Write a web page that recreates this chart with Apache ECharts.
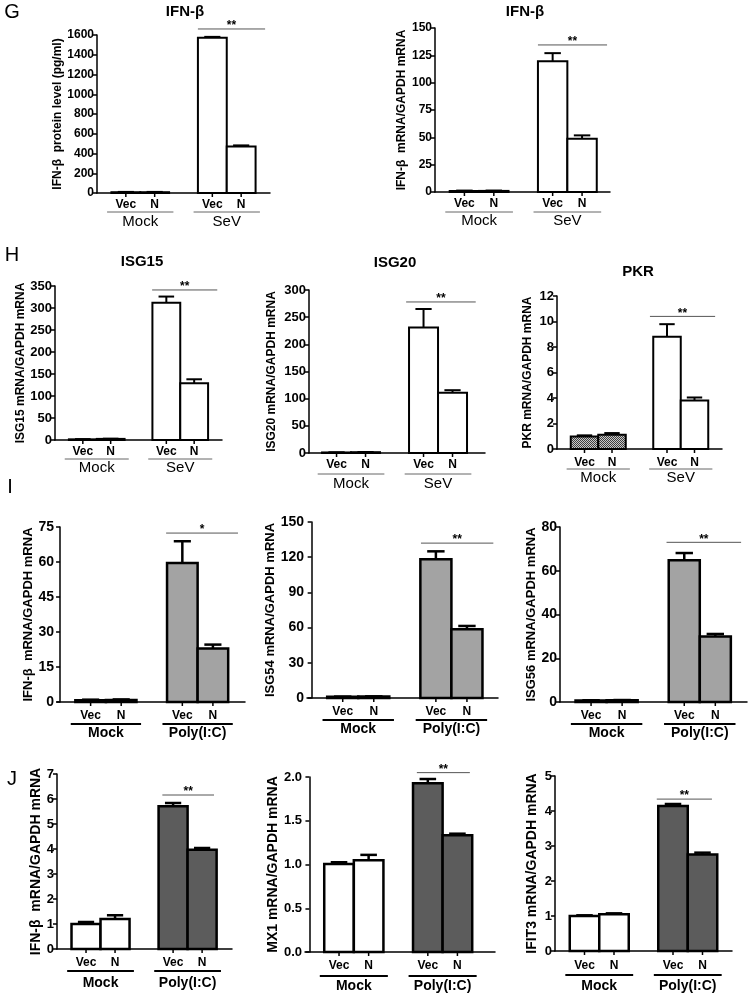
<!DOCTYPE html>
<html><head><meta charset="utf-8">
<script src="https://cdn.jsdelivr.net/npm/echarts@6/dist/echarts.min.js"></script>
<style>html,body{margin:0;padding:0;background:#fff}#c{width:751px;height:999px}</style>
</head><body><div id="c"></div>
<script>
// ---------- categories ----------
const conditions = ['Vec', 'N', 'Vec', 'N'];
const groupsSeV = ['Mock', 'SeV'];
const groupsPoly = ['Mock', 'Poly(I:C)'];

// ---------- values: mean and upper error (SEM) for Mock-Vec, Mock-N, Stim-Vec, Stim-N ----------
const gIfnbProteinMean = [8, 8, 1573, 470];
const gIfnbProteinErr  = [3, 3, 8, 12];
const gIfnbMrnaMean = [1, 1, 119.5, 48.7];
const gIfnbMrnaErr  = [0.3, 0.3, 7.5, 3.1];
const hIsg15Mean = [1.5, 2.5, 312, 129];
const hIsg15Err  = [0.5, 0.5, 14, 9];
const hIsg20Mean = [1, 1.5, 231, 111];
const hIsg20Err  = [0.3, 0.3, 34, 4.6];
const hPkrMean = [0.99, 1.12, 8.8, 3.8];
const hPkrErr  = [0.08, 0.13, 0.99, 0.24];
const iIfnbMean = [0.8, 0.9, 59.6, 22.9];
const iIfnbErr  = [0.2, 0.2, 9.3, 1.7];
const iIsg54Mean = [1, 1.2, 118.3, 58.6];
const iIsg54Err  = [0.2, 0.2, 6.7, 2.8];
const iIsg56Mean = [0.7, 0.8, 64.8, 29.9];
const iIsg56Err  = [0.1, 0.1, 3.3, 1.2];
const jIfnbMean = [1.0, 1.2, 5.71, 3.97];
const jIfnbErr  = [0.08, 0.15, 0.13, 0.07];
const jMx1Mean = [1.006, 1.048, 1.93, 1.333];
const jMx1Err  = [0.02, 0.062, 0.047, 0.019];
const jIfit3Mean = [1.0, 1.048, 4.14, 2.76];
const jIfit3Err  = [0.02, 0.028, 0.06, 0.05];

// ---------- y-axis tick settings ----------
const yMaxList = [1600, 150, 350, 300, 12, 75, 150, 80, 7, 2, 5];
const yIntList = [200, 25, 50, 50, 2, 15, 30, 20, 1, 0.5, 1];
// significance bracket heights (data units) and labels
const sigHeights = [1661, 134.5, 341, 278, 10.4, 72.4, 132, 73, 6.16, 2.05, 4.34];
const sigLabels = ['**', '**', '**', '**', '**', '*', '**', '**', '**', '**', '**'];

// ---------- titles / axis names ----------
const panelTitles = [
  {text: 'IFN-β', x: 185, y: 12}, {text: 'IFN-β', x: 525, y: 12},
  {text: 'ISG15', x: 142, y: 262}, {text: 'ISG20', x: 395, y: 263}, {text: 'PKR', x: 638, y: 272}
];
const panelLetters = [
  {text: 'G', x: 12, y: 12}, {text: 'H', x: 12, y: 255}, {text: 'I', x: 10, y: 487}, {text: 'J', x: 12, y: 779}
];
const yNames = [
  'IFN-β  protein level (pg/ml)', 'IFN-β  mRNA/GAPDH mRNA', 'ISG15 mRNA/GAPDH mRNA',
  'ISG20 mRNA/GAPDH mRNA', 'PKR mRNA/GAPDH mRNA', 'IFN-β  mRNA/GAPDH mRNA',
  'ISG54 mRNA/GAPDH mRNA', 'ISG56 mRNA/GAPDH mRNA', 'IFN-β  mRNA/GAPDH mRNA',
  'MX1 mRNA/GAPDH mRNA', 'IFIT3 mRNA/GAPDH mRNA'
];

// ---------- layout ----------
const FONT = "'Liberation Sans', Arial, sans-serif";
const barPos = [1, 2, 4, 5];

// pattern for PKR mock bars
const pc = document.createElement('canvas');
pc.width = 4; pc.height = 4;
const pctx = pc.getContext('2d');
pctx.fillStyle = '#c8c8c8'; pctx.fillRect(0, 0, 4, 4);
pctx.fillStyle = '#3f3f3f';
for (let a = 0; a < 4; a++) for (let b = 0; b < 4; b++) if ((a + b) % 2 === 0) pctx.fillRect(a, b, 1, 1);
const hatch = {image: pc, repeat: 'repeat'};

const W = '#ffffff', LG = '#a3a3a3', DG = '#5c5c5c';
const styleA = {grpFont: 'normal 15px ' + FONT, grpLine: '#666', grpLW: 1, barLW: 2, lblFont: 'bold 12px ' + FONT};
const styleB = {grpFont: 'bold 14px ' + FONT, grpLine: '#000', grpLW: 2, barLW: 2.5, lblFont: 'bold 12px ' + FONT};

const panels = [
  {grid: [97, 35, 173, 158], xr: [0, 6], mean: gIfnbProteinMean, err: gIfnbProteinErr, fill: [W, W, W, W], groups: groupsSeV, gap: 33, st: styleA, off: [12, 19, 29], sigX: [3.5, 5.83], tick: 12, name: 12},
  {grid: [435, 28, 175, 164], xr: [0, 5.95], mean: gIfnbMrnaMean, err: gIfnbMrnaErr, fill: [W, W, W, W], groups: groupsSeV, gap: 26, st: styleA, off: [12, 20, 29], sigX: [3.5, 5.85], tick: 12, name: 12},
  {grid: [55, 286, 167, 154], xr: [0, 6], mean: hIsg15Mean, err: hIsg15Err, fill: [W, W, W, W], groups: groupsSeV, gap: 21, st: styleA, off: [12, 19, 28], sigX: [3.49, 5.83], tick: 13, name: 12},
  {grid: [309, 290, 176, 163], xr: [0.05, 6.12], mean: hIsg20Mean, err: hIsg20Err, fill: [W, W, W, W], groups: groupsSeV, gap: 31, st: styleA, off: [12, 21, 31], sigX: [3.4, 5.8], tick: 13, name: 12},
  {grid: [557, 296, 165, 153], xr: [0, 6], mean: hPkrMean, err: hPkrErr, fill: [hatch, hatch, W, W], groups: groupsSeV, gap: 23, st: styleA, off: [14, 20, 29], sigX: [3.38, 5.75], tick: 13, name: 12},
  {grid: [57, 527, 188, 175], xr: [-0.1, 6.05], mean: iIfnbMean, err: iIfnbErr, fill: [LG, LG, LG, LG], groups: groupsPoly, gap: 21, st: styleB, off: [14, 22, 31], sigX: [3.47, 5.82], tick: 14, name: 13},
  {grid: [307, 522, 191, 176], xr: [-0.15, 6.0], mean: iIsg54Mean, err: iIsg54Err, fill: [LG, LG, LG, LG], groups: groupsPoly, gap: 24, st: styleB, off: [14, 22, 31], sigX: [3.52, 5.85], tick: 14, name: 13},
  {grid: [560, 527, 187, 175], xr: [0, 6.02], mean: iIsg56Mean, err: iIsg56Err, fill: [LG, LG, LG, LG], groups: groupsPoly, gap: 20, st: styleB, off: [14, 22, 31], sigX: [3.43, 5.83], tick: 14, name: 13},
  {grid: [57, 774, 175, 175], xr: [0, 6.03], mean: jIfnbMean, err: jIfnbErr, fill: [W, W, DG, DG], groups: groupsPoly, gap: 13, st: styleB, off: [14, 22, 34], sigX: [3.63, 5.41], tick: 13, name: 14},
  {grid: [305, 777, 190, 175], xr: [-0.15, 6.27], mean: jMx1Mean, err: jMx1Err, fill: [W, W, DG, DG], groups: groupsPoly, gap: 16, st: styleB, off: [14, 24, 34], sigX: [3.63, 5.42], tick: 13, name: 14, fmt: 1},
  {grid: [555, 776, 177, 175], xr: [0, 6.0], mean: jIfit3Mean, err: jIfit3Err, fill: [W, W, DG, DG], groups: groupsPoly, gap: 16, st: styleB, off: [15, 24, 35], sigX: [3.45, 5.32], tick: 13, name: 14}
];

function barRender(p) {
  return function (params, api) {
    const i = params.dataIndex;
    const x = api.value(0), m = api.value(1), e = api.value(2);
    const lt = api.coord([x - 0.5, m]);
    const rb = api.coord([x + 0.5, 0]);
    const w = rb[0] - lt[0];
    const cx = (lt[0] + rb[0]) / 2;
    const topE = api.coord([x, m + e])[1];
    const base = rb[1];
    const lw = p.st.barLW;
    const ch = [];
    ch.push({type: 'rect', shape: {x: lt[0], y: lt[1], width: w, height: Math.max(base - lt[1], 0.5)},
      style: {fill: p.fill[i], stroke: '#000', lineWidth: lw}});
    ch.push({type: 'line', shape: {x1: cx, y1: lt[1], x2: cx, y2: topE}, style: {stroke: '#000', lineWidth: lw}});
    ch.push({type: 'line', shape: {x1: cx - w * 0.28, y1: topE, x2: cx + w * 0.28, y2: topE}, style: {stroke: '#000', lineWidth: lw}});
    ch.push({type: 'line', shape: {x1: cx, y1: base, x2: cx, y2: base + 4}, style: {stroke: '#000', lineWidth: 1.5}});
    ch.push({type: 'text', x: cx, y: base + p.off[0],
      style: {text: conditions[i], font: p.st.lblFont, fill: '#000', align: 'center', verticalAlign: 'middle', textAlign: 'center', textVerticalAlign: 'middle'}});
    return {type: 'group', children: ch};
  };
}

function annRender(p, k) {
  return function (params, api) {
    const base = api.coord([0, 0])[1];
    const ch = [];
    for (let g = 0; g < 2; g++) {
      const x1 = api.coord([barPos[2 * g] - 0.65, 0])[0];
      const x2 = api.coord([barPos[2 * g + 1] + 0.65, 0])[0];
      ch.push({type: 'line', shape: {x1: x1, y1: base + p.off[1], x2: x2, y2: base + p.off[1]},
        style: {stroke: p.st.grpLine, lineWidth: p.st.grpLW}});
      ch.push({type: 'text', x: (x1 + x2) / 2, y: base + p.off[2],
        style: {text: p.groups[g], font: p.st.grpFont, fill: '#000', align: 'center', verticalAlign: 'middle', textAlign: 'center', textVerticalAlign: 'middle'}});
    }
    const sy = api.coord([0, sigHeights[k]])[1];
    const s1 = api.coord([p.sigX[0], 0])[0], s2 = api.coord([p.sigX[1], 0])[0];
    ch.push({type: 'line', shape: {x1: s1, y1: sy, x2: s2, y2: sy}, style: {stroke: '#555', lineWidth: 1}});
    ch.push({type: 'text', x: (s1 + s2) / 2, y: sy - 3,
      style: {text: sigLabels[k], font: 'bold 12px ' + FONT, fill: '#000', align: 'center', verticalAlign: 'middle', textAlign: 'center', textVerticalAlign: 'middle'}});
    return {type: 'group', children: ch};
  };
}

const grids = [], xAxes = [], yAxes = [], series = [];
panels.forEach(function (p, k) {
  grids.push({left: p.grid[0], top: p.grid[1], width: p.grid[2], height: p.grid[3], containLabel: false});
  xAxes.push({type: 'value', gridIndex: k, min: p.xr[0], max: p.xr[1],
    axisLine: {show: true, onZero: false, lineStyle: {color: '#000', width: 1.5}},
    axisTick: {show: false}, axisLabel: {show: false}, splitLine: {show: false}});
  yAxes.push({type: 'value', gridIndex: k, min: 0, max: yMaxList[k], interval: yIntList[k],
    axisLine: {show: true, lineStyle: {color: '#000', width: 1.5}},
    axisTick: {show: true, length: 4, lineStyle: {color: '#000', width: 1.5}},
    axisLabel: {color: '#000', fontWeight: 'bold', fontSize: p.tick, fontFamily: FONT, margin: 3,
      formatter: p.fmt ? function (v) { return v.toFixed(1); } : function (v) { return String(v); }},
    splitLine: {show: false},
    name: yNames[k], nameLocation: 'middle', nameRotate: 90, nameGap: p.gap,
    nameTextStyle: {color: '#000', fontWeight: 'bold', fontSize: p.name, fontFamily: FONT}});
  series.push({type: 'custom', xAxisIndex: k, yAxisIndex: k, clip: false, silent: true,
    renderItem: barRender(p),
    data: p.mean.map(function (m, i) { return [barPos[i], m, p.err[i]]; })});
  series.push({type: 'custom', xAxisIndex: k, yAxisIndex: k, clip: false, silent: true,
    renderItem: annRender(p, k), data: [[0, 0]]});
});

const graphics = [];
panelTitles.forEach(function (t) {
  graphics.push({type: 'text', x: t.x, y: t.y, style: {text: t.text, font: 'bold 15px ' + FONT, fill: '#000', textAlign: 'center', textVerticalAlign: 'middle', align: 'center', verticalAlign: 'middle'}});
});
panelLetters.forEach(function (t) {
  graphics.push({type: 'text', x: t.x, y: t.y, style: {text: t.text, font: 'normal 20px ' + FONT, fill: '#000', textAlign: 'center', textVerticalAlign: 'middle', align: 'center', verticalAlign: 'middle'}});
});

const chart = echarts.init(document.getElementById('c'));
chart.setOption({
  animation: false,
  backgroundColor: '#fff',
  grid: grids, xAxis: xAxes, yAxis: yAxes, series: series,
  graphic: graphics
});
</script></body></html>
